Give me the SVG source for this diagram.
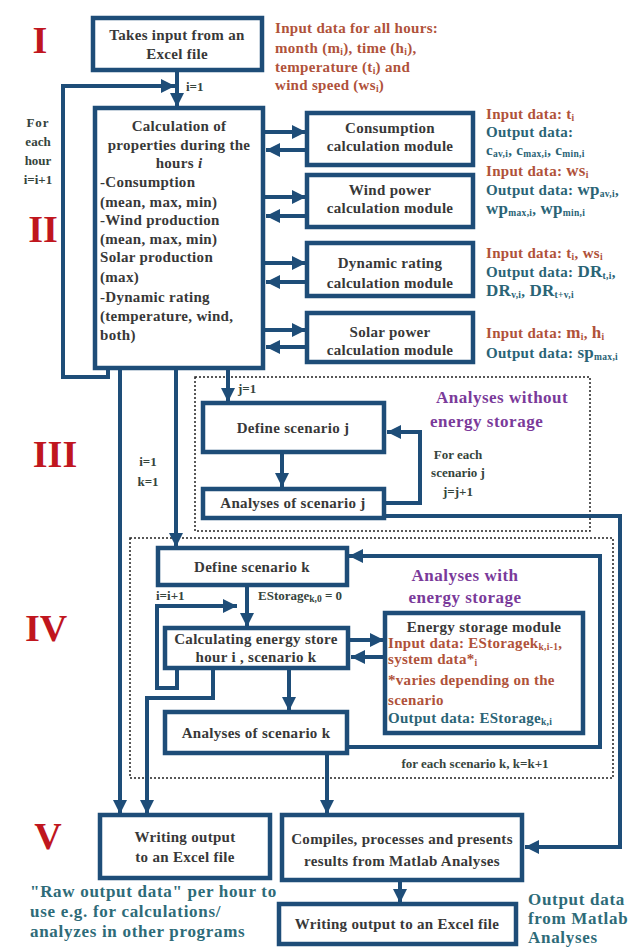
<svg xmlns="http://www.w3.org/2000/svg" width="637" height="947" viewBox="0 0 637 947">
<defs>
<marker id="ah" viewBox="0 0 10 10" refX="10" refY="5" markerWidth="14" markerHeight="14" markerUnits="userSpaceOnUse" orient="auto"><path d="M0,0 L10,5 L0,10 z" fill="#1e4d78"/></marker>
<style>
.box{fill:#fff;stroke:#1e4d78;stroke-width:4.5}
.ln{fill:none;stroke:#1e4d78;stroke-width:4}
.ar{marker-end:url(#ah)}
.dot{fill:none;stroke:#222;stroke-width:1.5;stroke-dasharray:2 2}
text{font-family:"Liberation Serif","Times New Roman",serif;font-weight:bold}
.t{font-size:15px;fill:#383838;text-anchor:middle;letter-spacing:0.3px}
.tl{font-size:15px;fill:#383838;letter-spacing:0.3px}
.in{font-size:15px;fill:#b0523a;letter-spacing:0.3px}
.out{font-size:15px;fill:#2b6476;letter-spacing:0.3px}
.rn{font-size:38px;fill:#c0161e;text-anchor:middle}
.pur{font-size:17px;fill:#7a3a9a;letter-spacing:0.5px}
.lbl{font-size:13px;fill:#35443c}
.lblc{font-size:13px;fill:#35443c;text-anchor:middle}
.sub{font-size:9.5px}
.big{font-size:17px}
.teal{font-size:17px;fill:#2e6b78;letter-spacing:0.7px}
</style>
</defs>

<!-- Roman numerals -->
<text class="rn" x="40" y="53">I</text>
<text class="rn" x="43" y="242">II</text>
<text class="rn" x="55" y="467">III</text>
<text class="rn" x="46" y="641">IV</text>
<text class="rn" x="48" y="849">V</text>

<!-- dotted groups -->
<rect class="dot" x="195" y="377" width="395" height="154"/>
<rect class="dot" x="130" y="538" width="483" height="240"/>

<g id="connectors">
<path class="ln ar" d="M177,70 V107"/>
<path class="ln ar" d="M108,370 V377 H63 V86 H175"/>
<path class="ln ar" d="M263,132 H306"/>
<path class="ln ar" d="M307,150 H266"/>
<path class="ln ar" d="M263,197 H306"/>
<path class="ln ar" d="M307,216 H266"/>
<path class="ln ar" d="M263,263 H306"/>
<path class="ln ar" d="M307,282 H266"/>
<path class="ln ar" d="M263,330 H306"/>
<path class="ln ar" d="M307,347 H266"/>
<path class="ln ar" d="M228,370 V402"/>
<path class="ln ar" d="M176,370 V547"/>
<path class="ln ar" d="M120,370 V814"/>
<path class="ln ar" d="M282,453 V487"/>
<path class="ln ar" d="M385,503 H420 V432 H387"/>
<path class="ln ar" d="M385,516 H620 V847 H525"/>
<path class="ln ar" d="M247,586 V627"/>
<path class="ln ar" d="M177,669 V688 H157 V606 H237"/>
<path class="ln ar" d="M213,669 V698 H147 V814"/>
<path class="ln ar" d="M289,669 V711"/>
<path class="ln ar" d="M349,640 H384"/>
<path class="ln ar" d="M385,657 H351"/>
<path class="ln ar" d="M348,747 H600 V556 H349"/>
<path class="ln ar" d="M327,754 V814"/>
<path class="ln ar" d="M400,881 V903"/>
</g>

<!-- labels on connectors -->
<text class="lbl" x="186" y="91">i=1</text>
<text class="lblc" x="38" y="127" letter-spacing="1">For</text>
<text class="lblc" x="38" y="146">each</text>
<text class="lblc" x="38" y="165">hour</text>
<text class="lblc" x="38" y="184">i=i+1</text>
<text class="lbl" x="238" y="393">j=1</text>
<text class="lblc" x="148" y="466">i=1</text>
<text class="lblc" x="148" y="486">k=1</text>
<text class="lblc" x="458" y="459">For each</text>
<text class="lblc" x="458" y="477">scenario j</text>
<text class="lblc" x="458" y="496">j=j+1</text>
<text class="lbl" x="156" y="600">i=i+1</text>
<text class="lbl" x="258" y="600">EStorage<tspan class="sub" dy="2">k,0</tspan><tspan dy="-2"> = 0</tspan></text>
<text class="lblc" x="475" y="768">for each scenario k, k=k+1</text>

<g id="input-excel">
<rect class="box" x="93" y="18" width="169" height="52"/>
<text class="t" x="177" y="40">Takes input from an</text>
<text class="t" x="177" y="59">Excel file</text>
</g>
<g id="input-note">
<text class="in" x="275" y="33">Input data for all hours:</text>
<text class="in" x="275" y="53">month (m<tspan class="sub" dy="2">i</tspan><tspan dy="-2">), time (h</tspan><tspan class="sub" dy="2">i</tspan><tspan dy="-2">),</tspan></text>
<text class="in" x="275" y="72">temperature (t<tspan class="sub" dy="2">i</tspan><tspan dy="-2">) and</tspan></text>
<text class="in" x="275" y="90">wind speed (ws<tspan class="sub" dy="2">i</tspan><tspan dy="-2">)</tspan></text>
</g>

<g id="calc-properties">
<rect class="box" x="95" y="108" width="168" height="260"/>
<text class="t" x="179" y="131">Calculation of</text>
<text class="t" x="179" y="150">properties during the</text>
<text class="t" x="179" y="168">hours <tspan font-style="italic">i</tspan></text>
<text class="tl" x="100" y="187">-Consumption</text>
<text class="tl" x="100" y="207">(mean, max, min)</text>
<text class="tl" x="100" y="225">-Wind production</text>
<text class="tl" x="100" y="244">(mean, max, min)</text>
<text class="tl" x="100" y="262">Solar production</text>
<text class="tl" x="100" y="282">(max)</text>
<text class="tl" x="100" y="302">-Dynamic rating</text>
<text class="tl" x="100" y="321">(temperature, wind,</text>
<text class="tl" x="100" y="340">both)</text>
</g>

<g id="consumption-module">
<rect class="box" x="307" y="113" width="166" height="52"/>
<text class="t" x="390" y="133" letter-spacing="0.8">Consumption</text>
<text class="t" x="390" y="151" letter-spacing="0.8">calculation module</text>
<text class="in" x="486" y="119">Input data: t<tspan class="sub" dy="2">i</tspan></text>
<text class="out" x="486" y="137">Output data:</text>
<text class="out" x="486" y="155" font-size="12">c<tspan class="sub" dy="2">av,i</tspan><tspan dy="-2">, c</tspan><tspan class="sub" dy="2">max,i</tspan><tspan dy="-2">, c</tspan><tspan class="sub" dy="2">min,i</tspan></text>
</g>

<g id="wind-module">
<rect class="box" x="307" y="175" width="166" height="52"/>
<text class="t" x="390" y="195" letter-spacing="0.8">Wind power</text>
<text class="t" x="390" y="213" letter-spacing="0.8">calculation module</text>
<text class="in" x="486" y="176">Input data: <tspan class="big">ws</tspan><tspan class="sub" dy="2">i</tspan></text>
<text class="out" x="486" y="195">Output data: <tspan class="big">wp</tspan><tspan class="sub" dy="2">av,i</tspan><tspan dy="-2">,</tspan></text>
<text class="out" x="486" y="214"><tspan class="big">wp</tspan><tspan class="sub" dy="2">max,i</tspan><tspan dy="-2">, </tspan><tspan class="big">wp</tspan><tspan class="sub" dy="2">min,i</tspan></text>
</g>

<g id="dynamic-module">
<rect class="box" x="307" y="243" width="166" height="53"/>
<text class="t" x="390" y="268" letter-spacing="0.8">Dynamic rating</text>
<text class="t" x="390" y="288" letter-spacing="0.8">calculation module</text>
<text class="in" x="486" y="258">Input data: t<tspan class="sub" dy="2">i</tspan><tspan dy="-2">, ws</tspan><tspan class="sub" dy="2">i</tspan></text>
<text class="out" x="486" y="277">Output data: <tspan class="big">DR</tspan><tspan class="sub" dy="2">t,i</tspan><tspan dy="-2">,</tspan></text>
<text class="out" x="486" y="296"><tspan class="big">DR</tspan><tspan class="sub" dy="2">v,i</tspan><tspan dy="-2">, </tspan><tspan class="big">DR</tspan><tspan class="sub" dy="2">t+v,i</tspan></text>
</g>

<g id="solar-module">
<rect class="box" x="307" y="313" width="166" height="49"/>
<text class="t" x="390" y="337" letter-spacing="0.8">Solar power</text>
<text class="t" x="390" y="355" letter-spacing="0.8">calculation module</text>
<text class="in" x="486" y="338">Input data: <tspan class="big">m</tspan><tspan class="sub" dy="2">i</tspan><tspan dy="-2">, </tspan><tspan class="big">h</tspan><tspan class="sub" dy="2">i</tspan></text>
<text class="out" x="486" y="358">Output data: <tspan class="big">sp</tspan><tspan class="sub" dy="2">max,i</tspan></text>
</g>

<g id="group-III-label">
<text class="pur" x="436" y="403">Analyses without</text>
<text class="pur" x="430" y="427">energy storage</text>
</g>

<g id="define-j">
<rect class="box" x="203" y="403" width="181" height="49"/>
<text class="t" x="293" y="433">Define scenario j</text>
</g>
<g id="analyses-j">
<rect class="box" x="203" y="489" width="181" height="29"/>
<text class="t" x="293" y="508">Analyses of scenario j</text>
</g>

<g id="group-IV-label">
<text class="pur" x="465" y="581" text-anchor="middle">Analyses with</text>
<text class="pur" x="465" y="603" text-anchor="middle">energy storage</text>
</g>

<g id="define-k">
<rect class="box" x="158" y="548" width="189" height="37"/>
<text class="t" x="252" y="572">Define scenario k</text>
</g>
<g id="calc-energy">
<rect class="box" x="165" y="628" width="183" height="40"/>
<text class="t" x="256" y="644">Calculating energy store</text>
<text class="t" x="256" y="662">hour i , scenario k</text>
</g>
<g id="energy-module">
<rect class="box" x="385" y="613" width="198" height="120"/>
<text class="t" x="484" y="632">Energy storage  module</text>
<text class="in" x="388" y="648">Input data: EStoragek<tspan class="sub" dy="2">k,i-1</tspan><tspan dy="-2">,</tspan></text>
<text class="in" x="388" y="664">system data*<tspan class="sub" dy="2">i</tspan></text>
<text class="in" x="388" y="685">*varies depending on the</text>
<text class="in" x="388" y="705">scenario</text>
<text class="out" x="388" y="723">Output data: EStorage<tspan class="sub" dy="2">k,i</tspan></text>
</g>
<g id="analyses-k">
<rect class="box" x="165" y="712" width="182" height="41"/>
<text class="t" x="256" y="738">Analyses of scenario k</text>
</g>

<g id="writing-output-raw">
<rect class="box" x="100" y="815" width="170" height="63"/>
<text class="t" x="185" y="842">Writing output</text>
<text class="t" x="185" y="862">to an Excel file</text>
</g>
<g id="compiles">
<rect class="box" x="282" y="815" width="240" height="65"/>
<text class="t" x="402" y="844">Compiles, processes and presents</text>
<text class="t" x="402" y="866">results from Matlab Analyses</text>
</g>
<g id="writing-output-matlab">
<rect class="box" x="279" y="904" width="237" height="40"/>
<text class="t" x="397" y="929">Writing output to an Excel file</text>
</g>

<text class="teal" x="30" y="897">"Raw output data" per hour to</text>
<text class="teal" x="30" y="917">use e.g. for calculations/</text>
<text class="teal" x="30" y="937">analyzes in other programs</text>
<text class="teal" x="528" y="905" letter-spacing="0.3">Output data</text>
<text class="teal" x="528" y="924" letter-spacing="0.3">from Matlab</text>
<text class="teal" x="528" y="943" letter-spacing="0.3">Analyses</text>
</svg>
